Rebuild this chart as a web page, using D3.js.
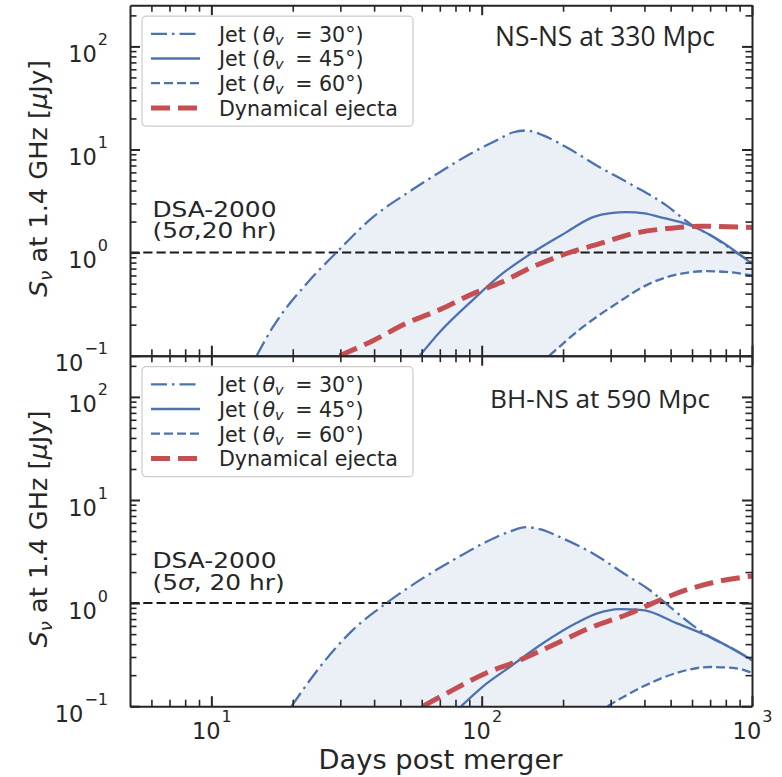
<!DOCTYPE html>
<html>
<head>
<meta charset="utf-8">
<script src="https://cdn.jsdelivr.net/npm/d3@7/dist/d3.min.js"></script>
<style>
  body { margin: 0; background: #fff; }
  svg text { font-family: "DejaVu Sans", sans-serif; fill: #262626; }
</style>
</head>
<body>
<svg id="chart" width="782" height="777"></svg>
<script>
// ---- data (days post merger, flux in uJy) ----
const nsnsJet30Days = [14.7, 16.9, 22.5, 29, 39.6, 52.6, 70, 93, 113, 131, 146, 169, 206, 273, 363, 482, 589, 718, 851, 1000];
const nsnsJet30Flux = [0.1, 0.19, 0.5, 1.0, 2.21, 3.73, 6.03, 9.42, 12.2, 14.7, 15.3, 13.7, 10.5, 6.74, 4.48, 2.87, 1.91, 1.42, 1.05, 0.8];
const nsnsJet45Days = [59, 70, 93, 117, 155, 206, 258, 300, 343, 400, 456, 589, 738, 1000];
const nsnsJet45Flux = [0.1, 0.17, 0.35, 0.6, 1.01, 1.58, 2.21, 2.42, 2.47, 2.4, 2.21, 1.84, 1.37, 0.78];
const nsnsJet60Days = [178, 237, 315, 418, 556, 677, 800, 1000];
const nsnsJet60Flux = [0.1, 0.19, 0.32, 0.5, 0.63, 0.66, 0.65, 0.6];
const nsnsEjectaDays = [29.8, 39.6, 52.6, 70, 93, 117, 155, 206, 273, 363, 482, 641, 1000];
const nsnsEjectaFlux = [0.1, 0.14, 0.206, 0.28, 0.4, 0.51, 0.73, 0.98, 1.22, 1.53, 1.71, 1.8, 1.75];

const bhnsJet30Days = [19.8, 25.2, 33.4, 44.4, 59, 78.4, 104, 127, 146, 169, 194, 258, 343, 418, 497, 589, 698, 850, 1000];
const bhnsJet30Flux = [0.1, 0.24, 0.55, 1.0, 1.67, 2.61, 3.93, 4.95, 5.45, 5.1, 4.39, 3.03, 1.87, 1.34, 0.92, 0.64, 0.47, 0.36, 0.28];
const bhnsJet45Days = [84, 101, 127, 169, 224, 266, 324, 395, 525, 698, 1000];
const bhnsJet45Flux = [0.1, 0.155, 0.24, 0.41, 0.64, 0.79, 0.875, 0.855, 0.64, 0.47, 0.28];
const bhnsJet60Days = [292, 395, 525, 698, 875, 1000];
const bhnsJet60Flux = [0.1, 0.155, 0.21, 0.24, 0.233, 0.21];
const bhnsEjectaDays = [60.7, 78.4, 104, 134, 194, 258, 343, 430, 571, 738, 1000];
const bhnsEjectaFlux = [0.1, 0.144, 0.21, 0.27, 0.42, 0.59, 0.77, 1.0, 1.34, 1.61, 1.83];

const viewingAngles = [30, 45, 60];
const ejectaLabel = 'Dynamical ejecta';
const panelTitles = ['NS-NS at 330 Mpc', 'BH-NS at 590 Mpc'];
const dsaLabels = [['DSA-2000', ',20 hr)'], ['DSA-2000', ', 20 hr)']];
const dsaLimit = 1.0;

const xDomain = [5, 1000];
const yDomain = [0.1, 251];
const xMajorTicks = [10, 100, 1000];
const xMinorTicks = [6, 7, 8, 9, 20, 30, 40, 50, 60, 70, 80, 90, 200, 300, 400, 500, 600, 700, 800, 900];
const yMajorTicks = [0.1, 1, 10, 100];
const yMinorTicks = [0.2, 0.3, 0.4, 0.5, 0.6, 0.7, 0.8, 0.9, 2, 3, 4, 5, 6, 7, 8, 9,
                     20, 30, 40, 50, 60, 70, 80, 90, 200];

// ---- layout ----
const blue = '#4c72b0';
const red = '#c44e52';
const ink = '#262626';
const plotLeft = 130;
const plotW = 622;
const panelH = 350.5;
const panelTops = [5.2, 355.7];

const svg = d3.select('#chart');

const x = d3.scaleLog().domain(xDomain).range([0, plotW]);
const y = d3.scaleLog().domain(yDomain).range([panelH, 0]);

const line = d3.line()
  .x(d => x(d[0]))
  .y(d => y(d[1]))
  .curve(d3.curveMonotoneX);

const zip = (a, b) => a.map((v, i) => [v, b[i]]);

const panels = [
  {
    jet30: zip(nsnsJet30Days, nsnsJet30Flux),
    jet45: zip(nsnsJet45Days, nsnsJet45Flux),
    jet60: zip(nsnsJet60Days, nsnsJet60Flux),
    ejecta: zip(nsnsEjectaDays, nsnsEjectaFlux),
    titleX: 715, titleY: 46,
    dsaY: 216.5, dsaGap: 22
  },
  {
    jet30: zip(bhnsJet30Days, bhnsJet30Flux),
    jet45: zip(bhnsJet45Days, bhnsJet45Flux),
    jet60: zip(bhnsJet60Days, bhnsJet60Flux),
    ejecta: zip(bhnsEjectaDays, bhnsEjectaFlux),
    titleX: 710, titleY: 408.3,
    dsaY: 568, dsaGap: 22.5
  }
];

const styles = [
  { color: blue, width: 2.3, dash: '16,5,2.5,5' },
  { color: blue, width: 2.3, dash: null },
  { color: blue, width: 2.3, dash: '9,4' },
  { color: red, width: 5, dash: '19,8' }
];

// scale a text's font size so it spans the given width
function fitWidth(sel, target) {
  const w = sel.node().getComputedTextLength();
  const fs = parseFloat(sel.attr('font-size'));
  sel.attr('font-size', (fs * target / w).toFixed(2) + 'px');
}

function powLabel(sel, d, raise) {
  const e = Math.round(Math.log10(d));
  sel.text('');
  sel.append('tspan').text('10');
  sel.append('tspan')
    .attr('dx', 1)
    .attr('dy', -raise)
    .attr('font-size', '16px')
    .text(e < 0 ? '\u2212' + (-e) : String(e));
}

function styleAxis(a, minor, showDomain) {
  a.attr('font-family', null).attr('font-size', null);
  a.select('.domain')
    .attr('stroke', showDomain ? ink : 'none')
    .attr('stroke-width', 2);
  a.selectAll('.tick line')
    .attr('stroke', ink)
    .attr('stroke-width', minor ? 1.6 : 2);
}

function addAxes(g, showXLabels) {
  // minor ticks
  const minorSets = [
    [d3.axisLeft(y), yMinorTicks, null],
    [d3.axisRight(y), yMinorTicks, `translate(${plotW},0)`],
    [d3.axisBottom(x), xMinorTicks, `translate(0,${panelH})`],
    [d3.axisTop(x), xMinorTicks, null]
  ];
  minorSets.forEach(([axis, vals, tr]) => {
    const a = g.append('g').attr('transform', tr)
      .call(axis.tickValues(vals).tickSize(-6.5).tickSizeOuter(0).tickFormat(''));
    styleAxis(a, true, false);
  });

  const left = g.append('g')
    .call(d3.axisLeft(y).tickValues(yMajorTicks).tickSize(-10).tickSizeOuter(0).tickPadding(22));
  styleAxis(left, false, true);
  left.selectAll('.tick text')
    .attr('dy', null).attr('y', 15)
    .attr('font-size', '22.5px')
    .attr('text-anchor', 'end')
    .each(function (d) { powLabel(d3.select(this), d, 17); });

  const right = g.append('g').attr('transform', `translate(${plotW},0)`)
    .call(d3.axisRight(y).tickValues(yMajorTicks).tickSize(-10).tickSizeOuter(0).tickFormat(''));
  styleAxis(right, false, true);

  const top = g.append('g')
    .call(d3.axisTop(x).tickValues(xMajorTicks).tickSize(-10).tickSizeOuter(0).tickFormat(''));
  styleAxis(top, false, true);

  const bottom = g.append('g').attr('transform', `translate(0,${panelH})`)
    .call(d3.axisBottom(x).tickValues(xMajorTicks).tickSize(-10).tickSizeOuter(0));
  styleAxis(bottom, false, true);
  if (showXLabels) {
    bottom.selectAll('.tick text')
      .attr('dy', null).attr('y', 32.6)
      .attr('font-size', '22.5px')
      .attr('text-anchor', 'middle')
      .each(function (d) { powLabel(d3.select(this), d, 16.5); });
  } else {
    bottom.selectAll('.tick text').remove();
  }
}

function addLegend(g) {
  const lg = g.append('g').attr('transform', 'translate(12,11)');
  lg.append('rect')
    .attr('x', 0).attr('y', 0)
    .attr('width', 271).attr('height', 110)
    .attr('rx', 4)
    .attr('fill', '#fff').attr('fill-opacity', 0.85)
    .attr('stroke', '#cccccc').attr('stroke-width', 1.2);

  styles.forEach((s, i) => {
    const ry = 17.6 + i * 24.7;
    lg.append('line')
      .attr('x1', 9).attr('x2', 58)
      .attr('y1', ry).attr('y2', ry)
      .attr('stroke', s.color)
      .attr('stroke-width', s.width)
      .attr('stroke-dasharray', s.dash);
    const t = lg.append('text')
      .attr('x', 77).attr('y', ry + 8)
      .attr('font-size', '20.6px');
    if (i < 3) {
      t.append('tspan').text('Jet (');
      t.append('tspan').attr('dx', 2).attr('font-style', 'italic').text('\u03b8');
      t.append('tspan').attr('font-style', 'italic').attr('font-size', '14.5px').attr('dy', 3).text('v');
      t.append('tspan').attr('dx', 5).attr('dy', -3).text(' = ' + viewingAngles[i] + '\u00b0)');
    } else {
      t.text(ejectaLabel);
    }
  });
}

panels.forEach((p, k) => {
  const g = svg.append('g').attr('transform', `translate(${plotLeft},${panelTops[k]})`);

  const clipId = 'clip' + k;
  g.append('clipPath').attr('id', clipId)
    .append('rect').attr('width', plotW).attr('height', panelH);

  const plot = g.append('g').attr('clip-path', `url(#${clipId})`);

  // shaded band between the 30 and 60 degree jets
  const upper = line(p.jet30);
  const lower = line(p.jet60.slice().reverse());
  plot.append('path')
    .attr('d', upper + lower.replace(/^M/, 'L') + 'Z')
    .attr('fill', blue)
    .attr('fill-opacity', 0.11)
    .attr('stroke', 'none');

  // DSA-2000 sensitivity
  plot.append('line')
    .attr('x1', 0).attr('x2', plotW)
    .attr('y1', y(dsaLimit)).attr('y2', y(dsaLimit))
    .attr('stroke', '#1a1a1a')
    .attr('stroke-width', 2)
    .attr('stroke-dasharray', '9.25,4');

  [p.jet30, p.jet45, p.jet60, p.ejecta].forEach((pts, i) => {
    plot.append('path')
      .attr('d', line(pts))
      .attr('fill', 'none')
      .attr('stroke', styles[i].color)
      .attr('stroke-width', styles[i].width)
      .attr('stroke-dasharray', styles[i].dash);
  });

  addAxes(g, k === 1);
  addLegend(g);

  // panel title
  const title = svg.append('text')
    .attr('x', p.titleX).attr('y', p.titleY)
    .attr('text-anchor', 'end')
    .style('font-family', '"Open Sans", sans-serif')
    .attr('font-size', '25px')
    .text(panelTitles[k]);
  fitWidth(title, 220);

  // DSA label: two lines in one text, stretched a little wider like the original
  const dsa = svg.append('text')
    .attr('font-size', '20.5px');
  const l1 = dsa.append('tspan').attr('x', 0).attr('y', 0).text(dsaLabels[k][0]);
  const l2 = dsa.append('tspan').attr('x', 0).attr('y', p.dsaGap);
  l2.append('tspan').text('(5');
  l2.append('tspan').attr('font-style', 'italic').text('\u03c3');
  l2.append('tspan').text(dsaLabels[k][1]);
  const sx = 124 / l1.node().getComputedTextLength();
  dsa.attr('transform', `translate(152.5,${p.dsaY}) scale(${sx.toFixed(3)},1)`);

  // y label
  const cy = panelTops[k] + panelH / 2;
  const yl = svg.append('text')
    .attr('transform', `translate(47,${cy - 2}) rotate(-90)`)
    .attr('text-anchor', 'middle')
    .attr('font-size', '25.5px');
  yl.append('tspan').attr('font-style', 'italic').text('S');
  yl.append('tspan').attr('font-style', 'italic').attr('font-size', '0.7em').attr('dy', '0.28em').text('\u03bd');
  yl.append('tspan').attr('dy', '-0.2em').text(' at 1.4 GHz [');
  yl.append('tspan').attr('font-style', 'italic').text('\u03bc');
  yl.append('tspan').text('Jy]');
  fitWidth(yl, 237);
});

const xl = svg.append('text')
  .attr('x', plotLeft + plotW / 2 - 0.5).attr('y', 769)
  .attr('text-anchor', 'middle')
  .attr('font-size', '24.5px')
  .text('Days post merger');
fitWidth(xl, 244);
</script>
</body>
</html>
